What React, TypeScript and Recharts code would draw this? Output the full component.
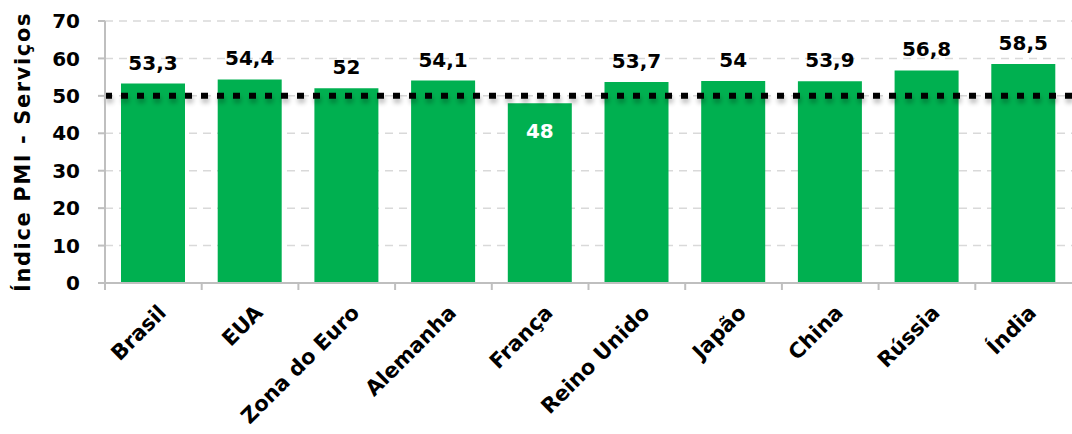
import { Bar, BarChart, CartesianGrid, LabelList, ReferenceLine, XAxis, YAxis } from "recharts";

const paises = ["Brasil", "EUA", "Zona do Euro", "Alemanha", "França", "Reino Unido", "Japão", "China", "Rússia", "Índia"];
const pmi = [53.3, 54.4, 52, 54.1, 48, 53.7, 54, 53.9, 56.8, 58.5];
const yTicks = [0, 10, 20, 30, 40, 50, 60, 70];
const limiar = 50;

const data = paises.map((p, i) => ({ pais: p, valor: pmi[i] }));

const W = 1072;
const H = 434;
const FONT = "'DejaVu Sans', sans-serif";
const fmt = (v: number) => String(v).replace(".", ",");

function PaisTick(props: any) {
  const { x, y, payload } = props;
  const band = (W - 105) / paises.length;
  const ax = x + 14;
  const ay = y + 23;
  return (
    <g>
      <line x1={x - band / 2} x2={x - band / 2} y1={y - 8} y2={y - 1} stroke="#BFBFBF" strokeWidth={2} />
      <text
        x={ax}
        y={ay}
        textAnchor="end"
        transform={`rotate(-45, ${ax}, ${ay})`}
        fontFamily={FONT}
        fontWeight={700}
        fontSize={21}
        fill="#000"
      >
        {payload.value}
      </text>
    </g>
  );
}

function ValorLabel(props: any) {
  const { x, y, width, value } = props;
  const dentro = value < limiar;
  return (
    <text
      x={x + width / 2}
      y={dentro ? y + 35 : y - 14}
      textAnchor="middle"
      fontFamily={FONT}
      fontWeight={700}
      fontSize={20}
      fill={dentro ? "#fff" : "#000"}
    >
      {fmt(value)}
    </text>
  );
}

export default function App() {
  return (
    <div style={{ position: "absolute", left: 0, top: 0, background: "#fff" }}>
      <BarChart width={W} height={H} data={data} margin={{ top: 21, right: 0, bottom: 0, left: 0 }}>
        <defs>
          <filter id="sombra" filterUnits="userSpaceOnUse" x="0" y="0" width={W} height={H}>
            <feGaussianBlur in="SourceAlpha" stdDeviation="2.5" />
            <feOffset dx="1" dy="4" result="b" />
            <feComponentTransfer>
              <feFuncA type="linear" slope="0.3" />
            </feComponentTransfer>
            <feMerge>
              <feMergeNode />
              <feMergeNode in="SourceGraphic" />
            </feMerge>
          </filter>
        </defs>
        <CartesianGrid vertical={false} stroke="#D9D9D9" strokeDasharray="8 6" strokeWidth={1.5} />
        <XAxis
          dataKey="pais"
          interval={0}
          height={151}
          tick={<PaisTick />}
          tickLine={false}
          axisLine={{ stroke: "#BFBFBF", strokeWidth: 2 }}
        />
        <YAxis
          domain={[0, 70]}
          ticks={yTicks}
          width={105}
          tick={{ fontFamily: FONT, fontWeight: 700, fontSize: 20, fill: "#000" }}
          tickLine={{ stroke: "#BFBFBF", strokeWidth: 2 }}
          tickSize={7}
          tickMargin={18}
          axisLine={{ stroke: "#BFBFBF", strokeWidth: 2 }}
          label={{
            value: "Índice PMI - Serviços",
            angle: -90,
            position: "insideLeft",
            dx: 18,
            dy: 0,
            style: {
              fontFamily: FONT,
              fontWeight: 700,
              fontSize: 21,
              letterSpacing: 1.6,
              fill: "#000",
              textAnchor: "middle",
            },
          }}
        />
        <Bar dataKey="valor" fill="#00B050" barSize={64} isAnimationActive={false}>
          <LabelList dataKey="valor" content={<ValorLabel />} />
        </Bar>
        <ReferenceLine
          y={limiar}
          stroke="#000"
          strokeWidth={6}
          strokeDasharray="7 9"
          filter="url(#sombra)"
        />
      </BarChart>
    </div>
  );
}
